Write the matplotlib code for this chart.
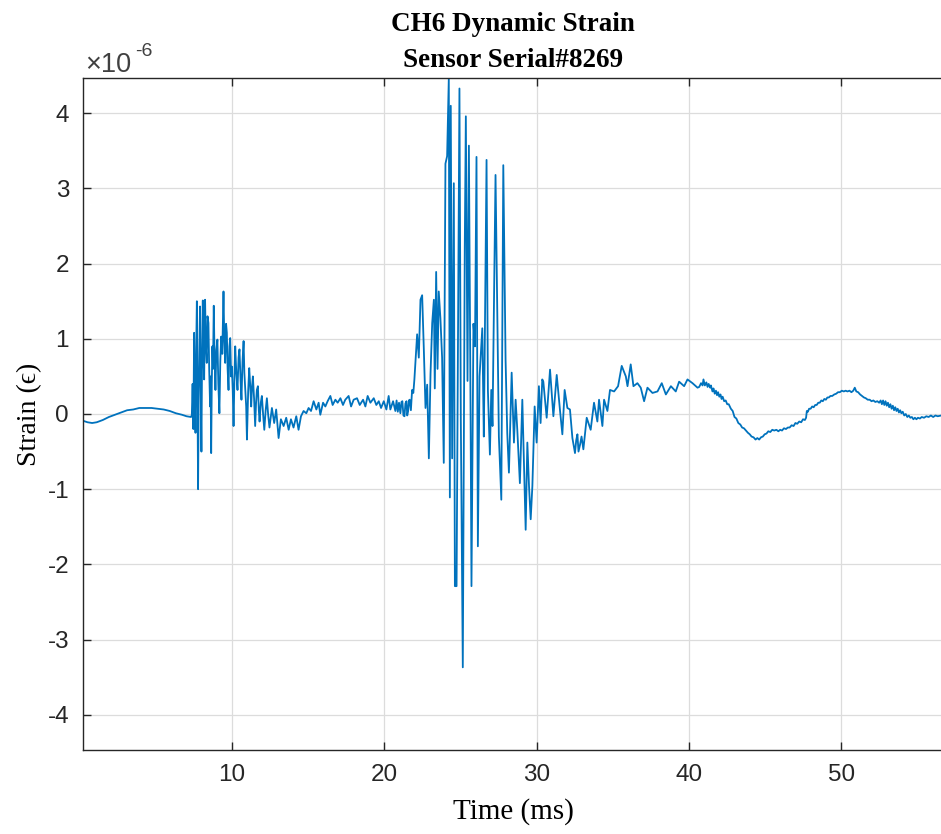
import matplotlib
matplotlib.use("Agg")
import matplotlib.pyplot as plt
import numpy as np

plt.rcParams["axes.unicode_minus"] = False

# strain values are in units of 1e-6, time in ms
base_t = [0.2, 0.5, 0.8, 1.1, 1.5, 1.9, 2.3, 2.7, 3.1, 3.5, 3.9, 4.3, 4.7, 5.1,
          5.5, 5.9, 6.3, 6.7, 7.0, 7.3]
base_s = [-0.09, -0.11, -0.12, -0.11, -0.08, -0.04, -0.01, 0.02, 0.05, 0.06, 0.08,
          0.08, 0.08, 0.07, 0.06, 0.04, 0.01, -0.01, -0.03, -0.04]

burst1_t = [7.35, 7.40, 7.45, 7.50, 7.55, 7.59, 7.64, 7.68, 7.72, 7.76, 7.80, 7.83,
            7.86, 7.89, 7.93, 7.98, 8.02, 8.07, 8.11, 8.16, 8.19, 8.22, 8.27, 8.33,
            8.38, 8.44, 8.49, 8.55, 8.58, 8.62, 8.66, 8.70, 8.74, 8.79, 8.84, 8.90,
            8.96, 9.03, 9.09, 9.16, 9.22, 9.28, 9.35, 9.43, 9.48, 9.54, 9.60, 9.65,
            9.70, 9.76, 9.82, 9.87, 9.93, 9.98, 10.04, 10.09, 10.15, 10.20, 10.27,
            10.35, 10.42, 10.48, 10.55, 10.61, 10.68, 10.75, 10.80, 10.86, 10.92,
            10.97, 11.05, 11.12, 11.18, 11.25, 11.30, 11.36, 11.44, 11.51, 11.57,
            11.62, 11.69, 11.75, 11.80, 11.88, 11.95, 12.03, 12.11, 12.20, 12.28,
            12.36, 12.45]
burst1_s = [-0.01, 0.40, -0.20, 1.08, 0.20, -0.25, 0.90, 1.50, 0.30, -1.00, 0.20, 0.68,
            1.10, 1.43, 0.40, -0.50, 0.70, 1.51, 0.80, 0.46, 1.10, 1.52, 0.90, 0.68,
            1.30, 1.21, 0.60, 0.10, 0.50, -0.52, 0.40, 0.90, 0.60, 1.44, 0.80, 0.32,
            0.85, 0.99, 0.40, 0.01, 0.70, 1.03, 0.80, 1.63, 1.00, 0.68, 1.20, 1.08,
            0.60, 0.32, 0.90, 1.01, 0.50, 0.63, 0.30, -0.16, 0.50, 0.90, 0.55,
            0.32, 0.75, 0.86, 0.45, 0.19, 0.70, 0.97, 0.55, 0.32, 0.10,
            -0.34, 0.30, 0.61, 0.40, 0.10, 0.35, 0.50, 0.20, -0.16, 0.15,
            0.32, 0.37, 0.05, -0.10, 0.15, 0.24, 0.00, -0.21, 0.05, 0.21,
            0.00, -0.18]

plateau_t = [12.61, 12.76, 12.89, 13.05, 13.20, 13.38, 13.55, 13.71, 13.86, 14.03,
             14.21, 14.36, 14.52, 14.69, 14.87, 15.02, 15.18, 15.35, 15.53, 15.68,
             15.79, 15.97, 16.12, 16.27, 16.45, 16.60, 16.78, 16.93, 17.11, 17.28,
             17.43, 17.65, 17.81, 17.98, 18.20, 18.38, 18.60, 18.75, 18.90, 19.08,
             19.30, 19.47, 19.63, 19.78, 19.96, 20.13, 20.28, 20.39, 20.57, 20.72,
             20.80, 20.88, 20.96, 21.05, 21.12, 21.18, 21.25, 21.32, 21.38, 21.45,
             21.50, 21.56, 21.61, 21.66, 21.74, 21.82, 21.90, 21.97]
plateau_s = [0.08, -0.12, 0.06, -0.32, -0.07, -0.16, -0.05, -0.21, -0.07, -0.18,
             -0.03, -0.21, -0.03, 0.04, 0.01, 0.08, 0.04, 0.17, 0.06, 0.15,
             -0.01, 0.15, 0.10, 0.17, 0.24, 0.12, 0.19, 0.15, 0.21, 0.12,
             0.19, 0.24, 0.10, 0.19, 0.21, 0.12, 0.19, 0.10, 0.24, 0.15,
             0.21, 0.12, 0.17, 0.08, 0.17, 0.06, 0.24, 0.06, 0.17, 0.04,
             0.18, 0.03, 0.15, 0.01, 0.16, 0.17, -0.02, -0.03, 0.14, 0.17,
             -0.02, 0.04, 0.18, 0.19, 0.05, 0.32, 0.28, 0.46]

burst2_t = [22.15, 22.26, 22.37, 22.48, 22.59, 22.70, 22.81, 22.92, 23.03, 23.14,
            23.25, 23.31, 23.40, 23.49, 23.57, 23.68, 23.79, 23.90, 24.01, 24.12,
            24.23, 24.30, 24.36, 24.45, 24.56, 24.63, 24.74, 24.85, 24.93, 25.02,
            25.15, 25.28, 25.35, 25.46, 25.55, 25.66, 25.72, 25.85, 25.95, 26.05,
            26.14, 26.25, 26.43, 26.53, 26.58, 26.71, 26.80, 26.93, 27.02, 27.10,
            27.30, 27.45, 27.52, 27.68, 27.81, 27.96, 28.07, 28.18, 28.36, 28.51,
            28.62, 28.73, 28.90, 29.06, 29.28, 29.39, 29.50, 29.61, 29.72, 29.87,
            30.00, 30.15, 30.26, 30.37]
burst2_s = [1.06, 0.75, 1.52, 1.58, 0.86, 0.08, 0.39, -0.59, 0.54, 1.21,
            1.52, 0.34, 1.89, 0.60, 1.63, 1.27, 0.75, -0.65, 3.33, 3.43,
            4.46, -1.11, 4.10, -0.59, 3.07, -2.29, -2.29, 1.47, 4.33, -0.08,
            -3.37, 2.24, 3.96, 0.44, 3.57, 0.03, -2.29, 1.20, 0.90, 3.42,
            -1.76, 0.50, 1.14, -0.30, 0.63, 3.38, 0.31, -0.54, 0.32, -0.16,
            3.18, 0.86, -0.30, -1.14, 3.31, 0.72, -0.25, -0.78, 0.55, -0.38,
            0.19, -0.21, -0.92, 0.19, -1.54, -0.38, -0.96, -1.40, -0.96, 0.10,
            -0.38, 0.37, -0.12, 0.46]

recovery_t = [30.44, 30.66, 30.88, 31.10, 31.32, 31.53, 31.69, 31.84, 32.02, 32.19,
              32.35, 32.52, 32.60, 32.68, 32.75, 32.85, 32.95, 33.07, 33.29, 33.55,
              33.77, 33.99, 34.10, 34.32, 34.43, 34.65, 34.82, 35.09, 35.35, 35.59,
              35.86, 35.97, 36.18, 36.36, 36.62, 36.84, 37.06, 37.28, 37.61, 37.94,
              38.22, 38.49, 38.82, 39.14, 39.36, 39.69, 39.91, 40.24, 40.57]
recovery_s = [0.43, -0.05, 0.59, -0.03, 0.52, 0.06, -0.27, 0.32, 0.08, 0.06,
              -0.32, -0.52, -0.35, -0.27, -0.50, -0.41, -0.30, -0.47, -0.05, -0.21,
              0.15, -0.10, 0.19, -0.16, 0.19, 0.04, 0.32, 0.30, 0.37, 0.64,
              0.50, 0.37, 0.66, 0.37, 0.41, 0.35, 0.17, 0.35, 0.28, 0.30,
              0.41, 0.26, 0.37, 0.30, 0.43, 0.37, 0.46, 0.41, 0.35]

tail_t = [40.68, 40.80, 40.90, 40.96, 41.05, 41.15, 41.23, 41.30, 41.40, 41.45,
          41.55, 41.62, 41.70, 41.78, 41.85, 41.92, 42.00, 42.08, 42.15, 42.22,
          42.32, 42.42, 42.52, 42.62, 42.76, 42.88, 43.00, 43.12, 43.25, 43.38,
          43.50, 43.62, 43.75, 43.88, 44.00, 44.12, 44.25, 44.38, 44.50, 44.62,
          44.74, 44.86, 44.98, 45.10, 45.22, 45.35, 45.48, 45.61, 45.75, 45.88,
          46.00, 46.12, 46.25, 46.38, 46.50, 46.62, 46.75, 46.88, 47.00, 47.12,
          47.25, 47.38, 47.50, 47.62, 47.70, 47.75, 47.82, 47.90, 48.00, 48.10,
          48.20, 48.30, 48.40, 48.50, 48.60, 48.70, 48.80, 48.90, 49.00, 49.10,
          49.20, 49.30, 49.42, 49.55, 49.68, 49.80, 49.92, 50.05, 50.18, 50.30,
          50.42, 50.55, 50.68, 50.80, 50.90, 51.00, 51.12, 51.25, 51.38, 51.50,
          51.62, 51.75, 51.88, 52.00, 52.12, 52.25, 52.38, 52.50, 52.60, 52.68,
          52.76, 52.84, 52.92, 53.00, 53.08, 53.16, 53.24, 53.32, 53.40, 53.48,
          53.56, 53.64, 53.72, 53.80, 53.88, 53.96, 54.05, 54.15, 54.25, 54.35,
          54.45, 54.55, 54.65, 54.75, 54.85, 54.95, 55.05, 55.18, 55.30, 55.45,
          55.60, 55.75, 55.90, 56.05, 56.20, 56.35, 56.58]
tail_s = [0.36, 0.41, 0.38, 0.46, 0.38, 0.42, 0.36, 0.40, 0.35, 0.38,
          0.30, 0.34, 0.27, 0.31, 0.25, 0.29, 0.23, 0.26, 0.20, 0.23,
          0.17, 0.18, 0.13, 0.13, 0.07, 0.04, -0.04, -0.06, -0.12, -0.14,
          -0.18, -0.19, -0.22, -0.25, -0.27, -0.30, -0.31, -0.34, -0.32, -0.34,
          -0.31, -0.30, -0.27, -0.26, -0.23, -0.24, -0.21, -0.22, -0.21, -0.23,
          -0.21, -0.22, -0.19, -0.20, -0.18, -0.18, -0.15, -0.16, -0.12, -0.13,
          -0.10, -0.11, -0.07, -0.08, -0.05, 0.04, 0.03, 0.07, 0.07, 0.10,
          0.09, 0.12, 0.12, 0.15, 0.15, 0.18, 0.17, 0.20, 0.19, 0.22,
          0.22, 0.24, 0.24, 0.26, 0.27, 0.29, 0.29, 0.31, 0.30, 0.31,
          0.30, 0.31, 0.29, 0.31, 0.35, 0.30, 0.29, 0.26, 0.24, 0.22,
          0.21, 0.19, 0.19, 0.17, 0.18, 0.16, 0.17, 0.15, 0.18, 0.13,
          0.18, 0.12, 0.17, 0.11, 0.15, 0.09, 0.13, 0.07, 0.11, 0.05,
          0.09, 0.04, 0.07, 0.02, 0.05, 0.01, 0.03, -0.02, 0.00, -0.04,
          -0.02, -0.05, -0.04, -0.07, -0.05, -0.07, -0.05, -0.06, -0.04, -0.05,
          -0.03, -0.04, -0.02, -0.04, -0.02, -0.03, -0.02]

time_ms = np.concatenate([base_t, burst1_t, plateau_t, burst2_t, recovery_t, tail_t])
strain = np.concatenate([base_s, burst1_s, plateau_s, burst2_s, recovery_s, tail_s])

fig = plt.figure(figsize=(9.41, 8.34), dpi=100)
ax = fig.add_axes([0.0882, 0.1007, 0.9140, 0.8058])

ax.plot(time_ms, strain, color="#0072BD", linewidth=1.3)

ax.set_xlim(0.2, 56.7)
ax.set_ylim(-4.47, 4.47)
ax.set_xticks([10, 20, 30, 40, 50])
ax.set_yticks([-4, -3, -2, -1, 0, 1, 2, 3, 4])
ax.grid(True, color="#dcdcdc", linewidth=0.9)
ax.set_axisbelow(True)

for side in ["left", "bottom", "top", "right"]:
    ax.spines[side].set_color("#262626")
    ax.spines[side].set_linewidth(1.0)
ax.tick_params(direction="in", length=6, width=1.0, color="#262626",
               top=True, right=False, labelcolor="#262626", labelsize=17.5, pad=10)
for lab in ax.get_xticklabels() + ax.get_yticklabels():
    lab.set_family("Liberation Sans")

ax.set_title("CH6 Dynamic Strain\nSensor Serial#8269", family="Liberation Serif",
             fontweight="bold", fontsize=19.5, linespacing=1.55, pad=8)
ax.set_xlabel("Time (ms)", family="Liberation Serif", fontsize=21, labelpad=9)
ax.set_ylabel("Strain (ϵ)", family=["Liberation Serif", "DejaVu Serif"],
              fontsize=20, labelpad=4)

# MATLAB style exponent label
ax.text(0.002, 1.009, "×10", transform=ax.transAxes, family="Liberation Sans",
        fontsize=19.5, color="#404040", va="baseline", ha="left")
ax.text(0.061, 1.032, "-6", transform=ax.transAxes, family="Liberation Sans",
        fontsize=14, color="#404040", va="baseline", ha="left")

fig.savefig("out.png", dpi=100)
